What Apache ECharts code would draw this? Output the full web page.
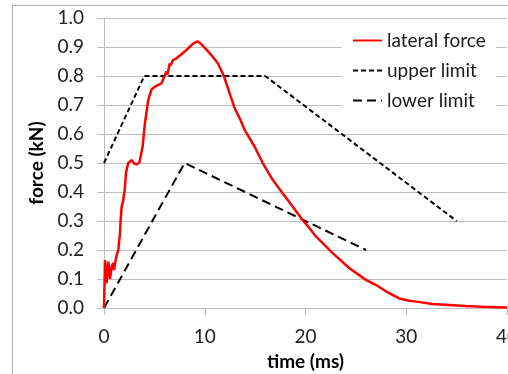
<!DOCTYPE html>
<html>
<head>
<meta charset="utf-8">
<script src="https://cdn.jsdelivr.net/npm/echarts@6/dist/echarts.min.js"></script>
<style>
html,body{margin:0;padding:0;background:#fff;}
#chart{width:508px;height:374px;}
</style>
</head>
<body>
<div id="chart"></div>
<script>
// lateral force curve (time in ms, force in kN)
var timeMs = [0,0.1,0.26,0.43,0.6,0.76,0.92,0.99,1.19,1.3,1.42,1.58,1.65,1.75,1.91,2.08,2.18,2.4,2.74,3.0,3.23,3.5,3.83,4.06,4.39,4.72,5.2,5.71,6.04,6.2,6.3,6.53,6.6,6.86,7.2,7.69,8.35,8.84,9.27,9.5,10.0,10.66,11.3,11.9,12.47,12.97,13.47,13.96,14.95,15.77,16.76,17.75,18.74,19.73,20.4,21.06,22.7,24.36,26.0,27.16,28.3,29.3,30.3,31.0,32.6,35.9,37.5,40];
var lateralForce = [0,0.165,0.086,0.16,0.1,0.142,0.155,0.131,0.171,0.187,0.2,0.256,0.303,0.348,0.371,0.417,0.466,0.5,0.51,0.498,0.495,0.5,0.556,0.637,0.717,0.754,0.766,0.775,0.803,0.815,0.805,0.844,0.835,0.855,0.861,0.875,0.895,0.912,0.919,0.915,0.897,0.872,0.844,0.8,0.74,0.689,0.654,0.614,0.556,0.499,0.441,0.395,0.349,0.303,0.275,0.246,0.189,0.137,0.097,0.076,0.051,0.033,0.025,0.022,0.014,0.007,0.004,0.002];
// limits
var upperTime = [0,4,16,35];
var upperForce = [0.5,0.8,0.8,0.3];
var lowerTime = [0,8,26];
var lowerForce = [0,0.5,0.2];
var seriesNames = ['lateral force','upper limit','lower limit'];
var yTicks = [0,0.1,0.2,0.3,0.4,0.5,0.6,0.7,0.8,0.9,1.0];
var xTicks = [0,10,20,30,40];

function zip(a,b){return a.map(function(v,i){return [v,b[i]];});}

var FONT = 'Lato';
var FS = 19;
var chart = echarts.init(document.getElementById('chart'), null, {renderer:'canvas'});
chart.setOption({
  animation:false,
  backgroundColor:'#fff',
  textStyle:{fontFamily:FONT},
  graphic:[{
    type:'rect', silent:true, z:-10,
    shape:{x:12.5,y:5.5,width:600,height:500},
    style:{fill:'none',stroke:'#b0b0b0',lineWidth:1}
  }],
  grid:{left:104,right:1,top:18,bottom:66,containLabel:false,outerBoundsMode:'none'},
  legend:{
    orient:'vertical', left:342, top:21,
    padding:[10,10,10,10],
    backgroundColor:'#fff',
    itemWidth:29, itemHeight:14, itemGap:11, itemTextGap:3,
    itemStyle:{opacity:0},
    textStyle:{fontFamily:FONT,fontSize:FS,color:'#1a1a1a',lineHeight:19},
    data:seriesNames
  },
  xAxis:{
    type:'value', min:xTicks[0], max:xTicks[xTicks.length-1], interval:10,
    name:'time (ms)', nameLocation:'middle', nameGap:44,
    nameTextStyle:{fontFamily:FONT,fontSize:FS,fontWeight:'bold',color:'#000'},
    axisLine:{show:true,lineStyle:{color:'#bdbdbd',width:1}},
    axisTick:{show:true,length:7,lineStyle:{color:'#bdbdbd'}},
    axisLabel:{fontFamily:FONT,fontSize:FS,color:'#222',margin:19,showMaxLabel:true,hideOverlap:false},
    splitLine:{show:false}
  },
  yAxis:{
    type:'value', min:0, max:1, interval:0.1,
    name:'force (kN)', nameLocation:'middle', nameGap:54, nameRotate:90,
    nameTextStyle:{fontFamily:FONT,fontSize:FS,fontWeight:'bold',color:'#000'},
    axisLine:{show:true,lineStyle:{color:'#bdbdbd',width:1}},
    axisTick:{show:true,length:7,lineStyle:{color:'#bdbdbd'}},
    axisLabel:{fontFamily:FONT,fontSize:FS,color:'#222',margin:20,
      formatter:function(v){return v.toFixed(1);}},
    splitLine:{show:true,lineStyle:{color:'#bdbdbd',width:1}}
  },
  series:[
    {name:seriesNames[0],type:'line',data:zip(timeMs,lateralForce),showSymbol:false,symbol:'none',
     lineStyle:{color:'#ff0000',width:2.5},itemStyle:{color:'#ff0000'},z:3},
    {name:seriesNames[1],type:'line',data:zip(upperTime,upperForce),showSymbol:false,symbol:'none',
     lineStyle:{color:'#000',width:2,type:[5,3]},itemStyle:{color:'#000'},z:2},
    {name:seriesNames[2],type:'line',data:zip(lowerTime,lowerForce),showSymbol:false,symbol:'none',
     lineStyle:{color:'#000',width:2,type:[9,5]},itemStyle:{color:'#000'},z:2}
  ]
});
</script>
</body>
</html>
